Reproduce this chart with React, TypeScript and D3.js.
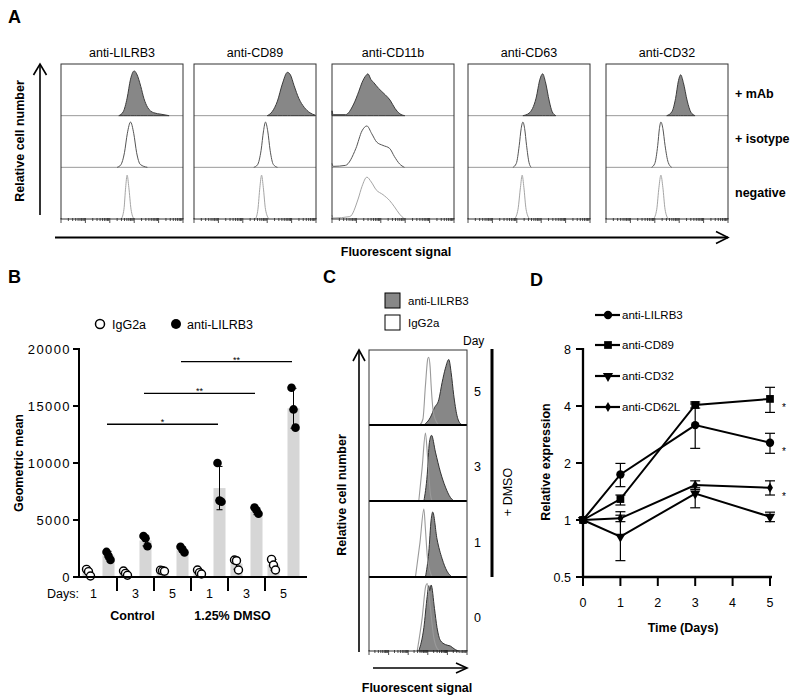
import React from "react";
import * as d3 from "d3";

type Pt = [number, number];

// ---------------- Panel A data (x in log10 decades, y relative height) ----------------
const aMarkers = ["anti-LILRB3", "anti-CD89", "anti-CD11b", "anti-CD63", "anti-CD32"];
const aRowLabels = ["+ mAb", "+ isotype", "negative"];

const lilrb3Mab: Pt[] = [[2.37,0],[2.55,0.08],[2.71,0.36],[2.85,0.75],[3.0,0.92],[3.1,0.86],[3.27,0.6],[3.4,0.35],[3.55,0.17],[3.8,0.06],[4.1,0.03],[4.43,0]];
const lilrb3Iso: Pt[] = [[2.3,0],[2.45,0.05],[2.6,0.3],[2.72,0.7],[2.85,0.93],[2.98,0.7],[3.1,0.3],[3.25,0.06],[3.54,0]];
const lilrb3Neg: Pt[] = [[2.47,0],[2.58,0.2],[2.65,0.65],[2.71,0.9],[2.78,0.65],[2.87,0.2],[2.99,0]];
const cd89Mab: Pt[] = [[3.0,0],[3.2,0.08],[3.42,0.3],[3.62,0.65],[3.83,0.89],[3.95,0.84],[4.1,0.62],[4.3,0.35],[4.52,0.17],[4.75,0.06],[4.97,0.01]];
const cd89Iso: Pt[] = [[2.45,0],[2.6,0.05],[2.75,0.35],[2.85,0.75],[2.93,0.93],[3.02,0.75],[3.12,0.35],[3.25,0.06],[3.42,0]];
const cd89Neg: Pt[] = [[2.52,0],[2.62,0.2],[2.7,0.65],[2.77,0.9],[2.84,0.65],[2.93,0.2],[3.07,0]];
const cd11bMab: Pt[] = [[0,0.1],[0.05,0.02],[0.55,0.02],[0.89,0.24],[1.1,0.5],[1.23,0.68],[1.4,0.83],[1.47,0.86],[1.6,0.74],[1.71,0.68],[1.91,0.56],[2.18,0.43],[2.38,0.32],[2.58,0.15],[2.78,0.04],[2.98,0]];
const cd11bIso: Pt[] = [[0,0.08],[0.05,0.02],[0.55,0.04],[0.98,0.39],[1.23,0.75],[1.43,0.85],[1.63,0.69],[1.83,0.52],[2.09,0.45],[2.36,0.39],[2.56,0.22],[2.77,0.07],[2.97,0]];
const cd11bNeg: Pt[] = [[0,0.08],[0.05,0.02],[0.73,0.05],[1.07,0.41],[1.23,0.67],[1.43,0.86],[1.61,0.76],[1.81,0.6],[2.09,0.5],[2.36,0.38],[2.56,0.25],[2.77,0.1],[2.97,0]];
const cd63Mab: Pt[] = [[2.25,0],[2.5,0.05],[2.79,0.36],[2.95,0.75],[3.06,0.86],[3.17,0.7],[3.33,0.3],[3.45,0.08],[3.6,0]];
const cd63Iso: Pt[] = [[1.84,0],[1.98,0.08],[2.1,0.45],[2.18,0.8],[2.25,0.93],[2.32,0.8],[2.4,0.45],[2.5,0.1],[2.59,0]];
const cd63Neg: Pt[] = [[1.91,0],[2.05,0.2],[2.15,0.65],[2.22,0.9],[2.29,0.65],[2.38,0.2],[2.52,0]];
const cd32Mab: Pt[] = [[2.49,0],[2.7,0.08],[2.85,0.35],[2.97,0.72],[3.06,0.84],[3.17,0.68],[3.33,0.3],[3.48,0.07],[3.65,0]];
const cd32Iso: Pt[] = [[1.87,0],[2.0,0.08],[2.12,0.45],[2.19,0.8],[2.25,0.93],[2.33,0.8],[2.42,0.45],[2.55,0.1],[2.69,0]];
const cd32Neg: Pt[] = [[1.95,0],[2.08,0.2],[2.17,0.65],[2.25,0.9],[2.33,0.65],[2.42,0.2],[2.55,0]];

// ---------------- Panel B data ----------------
const bDays = ["1", "3", "5", "1", "3", "5"];
const bTreatments = ["Control", "1.25% DMSO"];
const bIgBar = [350, 250, 550, 420, 1180, 1070];
const bIgSd = [300, 190, 50, 180, 490, 470];
const bIgPts = [[670, 470, 90], [525, 320, 150], [600, 550, 500], [610, 380, 260], [1490, 1430, 610], [1550, 1050, 610]];
const bAbBar = [1900, 3200, 2400, 7800, 5750, 14800];
const bAbSd = [350, 470, 250, 1900, 280, 1750];
const bAbPts = [[2200, 1850, 1500], [3600, 3400, 2700], [2650, 2400, 2150], [10000, 6700, 6600], [6100, 5850, 5550], [16600, 14700, 13100]];
const bSigFrom = [0, 1, 2];
const bSigTo = [3, 4, 5];
const bSigY = [13400, 16100, 18900];
const bSigLabel = ["*", "**", "**"];
const bYTicks = [0, 5000, 10000, 15000, 20000];

// ---------------- Panel C data ----------------
const cDays = ["5", "3", "1", "0"];
const cDay5Anti: Pt[] = [[2.8,0],[3.14,0.11],[3.34,0.24],[3.56,0.35],[3.73,0.59],[3.9,0.79],[4.07,0.91],[4.19,0.73],[4.32,0.42],[4.49,0.13],[4.66,0.02],[4.8,0]];
const cDay5Ig: Pt[] = [[2.6,0],[2.75,0.08],[2.88,0.55],[3.0,0.92],[3.05,0.94],[3.12,0.8],[3.17,0.55],[3.3,0.15],[3.55,0]];
const cDay3Anti: Pt[] = [[2.8,0],[2.97,0.36],[3.08,0.8],[3.19,0.9],[3.39,0.67],[3.64,0.4],[3.9,0.19],[4.15,0.05],[4.32,0]];
const cDay3Ig: Pt[] = [[2.54,0],[2.71,0.45],[2.88,0.93],[2.97,0.67],[3.05,0.36],[3.13,0.1],[3.22,0]];
const cDay1Anti: Pt[] = [[2.88,0],[3.05,0.34],[3.17,0.78],[3.25,0.89],[3.47,0.52],[3.73,0.25],[3.98,0.08],[4.24,0]];
const cDay1Ig: Pt[] = [[2.37,0],[2.6,0.47],[2.8,0.93],[2.88,0.65],[2.97,0.3],[3.13,0.06],[3.22,0]];
const cDay0Anti: Pt[] = [[2.54,0],[2.8,0.33],[2.97,0.77],[3.05,0.92],[3.1,0.85],[3.17,0.93],[3.34,0.6],[3.47,0.33],[3.64,0.15],[3.9,0.09],[4.15,0.07],[4.4,0.02],[4.58,0]];
const cDay0Ig: Pt[] = [[2.46,0],[2.71,0.46],[2.9,0.92],[2.97,0.95],[3.1,0.68],[3.3,0.2],[3.47,0.04],[3.64,0]];

// ---------------- Panel D data ----------------
const dDays = [0, 1, 3, 5];
const dSeriesNames = ["anti-LILRB3", "anti-CD89", "anti-CD32", "anti-CD62L"];
const dLILRB3 = [1, 1.74, 3.17, 2.56];
const dLILRB3Lo = [1, 1.5, 2.39, 2.25];
const dLILRB3Hi = [1, 1.99, 4.1, 2.87];
const dCD89 = [1, 1.29, 4.05, 4.36];
const dCD89Lo = [1, 1.2, 3.9, 3.7];
const dCD89Hi = [1, 1.355, 4.2, 5.02];
const dCD32 = [1, 0.816, 1.38, 1.04];
const dCD32Lo = [1, 0.61, 1.16, 0.98];
const dCD32Hi = [1, 1.106, 1.48, 1.1];
const dCD62L = [1, 1.02, 1.53, 1.48];
const dCD62LLo = [1, 0.98, 1.45, 1.355];
const dCD62LHi = [1, 1.06, 1.61, 1.61];
const dSignificant = [true, true, false, true];
const dYTicks = [0.5, 1, 2, 4, 8];
const dXTicks = [0, 1, 2, 3, 4, 5];

const FONT = "'Liberation Sans', Arial, Helvetica, sans-serif";

const logTicks = d3
  .scaleLog()
  .domain([1, 1e5])
  .ticks()
  .map((t) => {
    const d = Math.log10(t);
    return { d, major: Math.abs(d - Math.round(d)) < 1e-9 };
  });

function histArea(pts: Pt[], xs: d3.ScaleLinear<number, number>, base: number, h: number) {
  const y = d3.scaleLinear().domain([0, 1]).range([base, base - h]);
  return d3
    .area<Pt>()
    .x((p) => xs(p[0]))
    .y0(base)
    .y1((p) => y(p[1]))
    .curve(d3.curveMonotoneX)(pts) as string;
}
function histLine(pts: Pt[], xs: d3.ScaleLinear<number, number>, base: number, h: number) {
  const y = d3.scaleLinear().domain([0, 1]).range([base, base - h]);
  return d3
    .line<Pt>()
    .x((p) => xs(p[0]))
    .y((p) => y(p[1]))
    .curve(d3.curveMonotoneX)(pts) as string;
}

function LogTicks({ x0, w, y }: { x0: number; w: number; y: number }) {
  const xs = d3.scaleLinear().domain([0, 5]).range([x0, x0 + w]);
  return (
    <g stroke="#222" strokeWidth={0.8}>
      {logTicks.map((t, i) => (
        <line key={i} x1={xs(t.d)} x2={xs(t.d)} y1={y - 1} y2={y + (t.major ? 4 : 2)} />
      ))}
    </g>
  );
}

function PanelA() {
  const boxX = [61, 194, 332, 468, 606];
  const boxW = 122;
  const top = 64;
  const bot = 219;
  const rowH = (bot - top) / 3;
  const hists: Pt[][][] = [
    [lilrb3Mab, lilrb3Iso, lilrb3Neg],
    [cd89Mab, cd89Iso, cd89Neg],
    [cd11bMab, cd11bIso, cd11bNeg],
    [cd63Mab, cd63Iso, cd63Neg],
    [cd32Mab, cd32Iso, cd32Neg],
  ];
  const peakH = rowH - 3;
  return (
    <g>
      <text x={8} y={23} fontSize={18} fontWeight="bold">A</text>
      {aMarkers.map((m, i) => {
        const x0 = boxX[i];
        const xs = d3.scaleLinear().domain([0, 5]).range([x0, x0 + boxW]);
        const [mab, iso, neg] = hists[i];
        return (
          <g key={m}>
            <text x={x0 + boxW / 2} y={57} fontSize={12.5} textAnchor="middle">{m}</text>
            <rect x={x0} y={top} width={boxW} height={bot - top} fill="#fff" stroke="none" />
            {/* baselines */}
            {[0, 1].map((r) => (
              <line key={r} x1={x0} x2={x0 + boxW} y1={top + (r + 1) * rowH} y2={top + (r + 1) * rowH} stroke="#9a9a9a" strokeWidth={1} />
            ))}
            <path d={histArea(mab, xs, top + rowH, peakH)} fill="#878787" stroke="#3c3c3c" strokeWidth={1} />
            <path d={histLine(iso, xs, top + 2 * rowH, peakH)} fill="none" stroke="#555" strokeWidth={1} />
            <path d={histLine(neg, xs, top + 3 * rowH, peakH)} fill="none" stroke="#a5a5a5" strokeWidth={1} />
            <rect x={x0} y={top} width={boxW} height={bot - top} fill="none" stroke="#333" strokeWidth={1} />
            <LogTicks x0={x0} w={boxW} y={bot} />
          </g>
        );
      })}
      {aRowLabels.map((l, r) => (
        <text key={l} x={735} y={[98, 143, 197][r]} fontSize={12.5} fontWeight="bold">{l}</text>
      ))}
      {/* y arrow */}
      <line x1={40} x2={40} y1={215} y2={64} stroke="#000" strokeWidth={1.6} />
      <path d="M33.5,75 L40,64 L46.5,75" fill="none" stroke="#000" strokeWidth={1.6} />
      <text transform="translate(24,141) rotate(-90)" fontSize={12.5} fontWeight="bold" textAnchor="middle">Relative cell number</text>
      {/* x arrow */}
      <line x1={55} x2={728} y1={237.5} y2={237.5} stroke="#000" strokeWidth={1.8} />
      <path d="M716,231.5 L728,237.5 L716,243.5" fill="none" stroke="#000" strokeWidth={1.6} />
      <text x={396} y={256} fontSize={12.5} fontWeight="bold" textAnchor="middle">Fluorescent signal</text>
    </g>
  );
}

function PanelB() {
  const y = d3.scaleLinear().domain([0, 20000]).range([577, 349]);
  const x = d3.scaleBand<number>().domain(d3.range(6)).range([80, 302]);
  const cx = (i: number) => (x(i) as number) + x.bandwidth() / 2;
  const off = 10;
  const bw = 12;
  const jit = [-2, 0, 2];
  return (
    <g>
      <text x={8} y={283} fontSize={18} fontWeight="bold">B</text>
      {/* legend */}
      <circle cx={100} cy={324} r={4.5} fill="#fff" stroke="#000" strokeWidth={1.5} />
      <text x={112} y={329} fontSize={12.5}>IgG2a</text>
      <circle cx={176} cy={324} r={5} fill="#000" />
      <text x={187} y={329} fontSize={12.5}>anti-LILRB3</text>
      {/* bars */}
      {bDays.map((_, i) => (
        <g key={i}>
          <rect x={cx(i) - off - bw / 2} width={bw} y={y(bIgBar[i])} height={577 - y(bIgBar[i])} fill="#d6d6d6" />
          <rect x={cx(i) + off - bw / 2} width={bw} y={y(bAbBar[i])} height={577 - y(bAbBar[i])} fill="#d6d6d6" />
        </g>
      ))}
      {/* error bars */}
      {bDays.map((_, i) => (
        <g key={"e" + i} stroke="#000" strokeWidth={1}>
          {[
            [cx(i) - off, bIgBar[i], bIgSd[i]],
            [cx(i) + off, bAbBar[i], bAbSd[i]],
          ].map(([xx, m, s], k) => (
            <g key={k}>
              <line x1={xx} x2={xx} y1={y(m - s)} y2={y(m + s)} />
              <line x1={xx - 3} x2={xx + 3} y1={y(m - s)} y2={y(m - s)} />
              <line x1={xx - 3} x2={xx + 3} y1={y(m + s)} y2={y(m + s)} />
            </g>
          ))}
        </g>
      ))}
      {/* points */}
      {bDays.map((_, i) => (
        <g key={"p" + i}>
          {bIgPts[i].map((v, k) => (
            <circle key={k} cx={cx(i) - off + jit[k]} cy={y(v)} r={4} fill="#fff" stroke="#000" strokeWidth={1.4} />
          ))}
          {bAbPts[i].map((v, k) => (
            <circle key={k} cx={cx(i) + off + jit[k]} cy={y(v)} r={4.3} fill="#000" />
          ))}
        </g>
      ))}
      {/* axes */}
      <line x1={79} x2={79} y1={348} y2={578} stroke="#000" strokeWidth={2} />
      <line x1={78} x2={307} y1={577} y2={577} stroke="#000" strokeWidth={2} />
      {bYTicks.map((t) => (
        <g key={t}>
          <line x1={73} x2={79} y1={y(t)} y2={y(t)} stroke="#000" strokeWidth={2} />
          <text x={71} y={y(t) + 4.5} fontSize={13} textAnchor="end" letterSpacing={1.4}>{t}</text>
        </g>
      ))}
      {d3.range(1, 6).map((i) => (
        <line key={i} x1={x(i) as number} x2={x(i) as number} y1={577} y2={591} stroke="#000" strokeWidth={2} />
      ))}
      <text x={47} y={598} fontSize={12.5}>Days:</text>
      {bDays.map((d, i) => (
        <text key={i} x={i === 0 ? cx(i) - 5 : cx(i)} y={598} fontSize={12.5} textAnchor="middle">{d}</text>
      ))}
      <text x={cx(1) - 3} y={620} fontSize={12.5} fontWeight="bold" textAnchor="middle">{bTreatments[0]}</text>
      <text x={cx(4) - 14} y={620} fontSize={12.5} fontWeight="bold" textAnchor="middle">{bTreatments[1]}</text>
      <text transform="translate(23,463) rotate(-90)" fontSize={12.5} fontWeight="bold" textAnchor="middle">Geometric mean</text>
      {/* significance */}
      {bSigFrom.map((f, k) => {
        const x1 = cx(f) + off - 1.5;
        const x2 = cx(bSigTo[k]) + off - 1.5;
        return (
          <g key={k}>
            <line x1={x1} x2={x2} y1={y(bSigY[k])} y2={y(bSigY[k])} stroke="#000" strokeWidth={1.3} />
            <text x={(x1 + x2) / 2} y={y(bSigY[k]) + 1} fontSize={9} textAnchor="middle">{bSigLabel[k]}</text>
          </g>
        );
      })}
    </g>
  );
}

function PanelC() {
  const x0 = 369;
  const w = 98;
  const rowTops = [350, 425, 501, 577];
  const bot = 651;
  const xs = d3.scaleLinear().domain([0, 5]).range([x0, x0 + w]);
  const anti = [cDay5Anti, cDay3Anti, cDay1Anti, cDay0Anti];
  const ig = [cDay5Ig, cDay3Ig, cDay1Ig, cDay0Ig];
  return (
    <g>
      <text x={323} y={283} fontSize={18} fontWeight="bold">C</text>
      <rect x={385} y={293} width={15} height={15} fill="#878787" stroke="#000" strokeWidth={1} />
      <text x={408} y={305} fontSize={11.5}>anti-LILRB3</text>
      <rect x={385} y={315} width={15} height={15} fill="#fff" stroke="#000" strokeWidth={1} />
      <text x={408} y={327} fontSize={11.5}>IgG2a</text>
      <text x={463} y={345} fontSize={12}>Day</text>
      <rect x={x0} y={rowTops[0]} width={w} height={bot - rowTops[0]} fill="#fff" />
      {cDays.map((d, r) => {
        const base = r < 3 ? rowTops[r + 1] : bot;
        const h = base - rowTops[r] - 3;
        return (
          <g key={d}>
            <path d={histArea(anti[r], xs, base, h)} fill="#878787" stroke="#333" strokeWidth={1} />
            <path d={histLine(ig[r], xs, base, h)} fill="none" stroke="#9a9a9a" strokeWidth={1.1} />
            <text x={474} y={(rowTops[r] + base) / 2 + 8} fontSize={12.5}>{d}</text>
          </g>
        );
      })}
      {[1, 2, 3].map((r) => (
        <line key={r} x1={x0} x2={x0 + w} y1={rowTops[r]} y2={rowTops[r]} stroke="#000" strokeWidth={1.8} />
      ))}
      <rect x={x0} y={rowTops[0]} width={w} height={bot - rowTops[0]} fill="none" stroke="#333" strokeWidth={1} />
      <LogTicks x0={x0} w={w} y={bot} />
      <line x1={492} x2={492} y1={349} y2={577} stroke="#000" strokeWidth={3} />
      <text transform="translate(512,492) rotate(-90)" fontSize={12.5} textAnchor="middle">+ DMSO</text>
      {/* y arrow */}
      <line x1={359} x2={359} y1={652} y2={350} stroke="#000" strokeWidth={1.6} />
      <path d="M353,361 L359,350 L365,361" fill="none" stroke="#000" strokeWidth={1.6} />
      <text transform="translate(346,495) rotate(-90)" fontSize={12.5} fontWeight="bold" textAnchor="middle">Relative cell number</text>
      {/* x arrow */}
      <line x1={373} x2={467} y1={668} y2={668} stroke="#000" strokeWidth={1.6} />
      <path d="M456,663 L467,668 L456,673" fill="none" stroke="#000" strokeWidth={1.6} />
      <text x={417} y={692} fontSize={12.5} fontWeight="bold" textAnchor="middle">Fluorescent signal</text>
    </g>
  );
}

function PanelD() {
  const x = d3.scaleLinear().domain([0, 5]).range([583, 770]);
  const y = d3.scaleLog().base(2).domain([0.5, 8]).range([577, 349]);
  const series = [
    { name: dSeriesNames[0], v: dLILRB3, lo: dLILRB3Lo, hi: dLILRB3Hi, sym: d3.symbolCircle, size: 55, rot: 0 },
    { name: dSeriesNames[1], v: dCD89, lo: dCD89Lo, hi: dCD89Hi, sym: d3.symbolSquare, size: 60, rot: 0 },
    { name: dSeriesNames[2], v: dCD32, lo: dCD32Lo, hi: dCD32Hi, sym: d3.symbolTriangle, size: 45, rot: 180 },
    { name: dSeriesNames[3], v: dCD62L, lo: dCD62LLo, hi: dCD62LHi, sym: d3.symbolDiamond, size: 30, rot: 0 },
  ];
  const line = d3.line<number>().x((_, i) => x(dDays[i])).y((v) => y(v));
  const legendY = [315, 345, 376, 407];
  return (
    <g>
      <text x={530} y={286} fontSize={18} fontWeight="bold">D</text>
      {series.map((s, k) => (
        <g key={s.name}>
          <line x1={595} x2={620} y1={legendY[k]} y2={legendY[k]} stroke="#000" strokeWidth={2.2} />
          <path d={d3.symbol().type(s.sym).size(s.size)() as string} transform={`translate(608,${legendY[k]}) rotate(${s.rot})`} fill="#000" />
          <text x={622} y={legendY[k] + 4} fontSize={11.5}>{s.name}</text>
        </g>
      ))}
      {series.map((s) => (
        <g key={"s" + s.name}>
          <path d={line(s.v) as string} fill="none" stroke="#000" strokeWidth={2} />
          {s.v.map((v, i) =>
            i === 0 ? null : (
              <g key={i} stroke="#000" strokeWidth={1.2}>
                <line x1={x(dDays[i])} x2={x(dDays[i])} y1={y(s.lo[i])} y2={y(s.hi[i])} />
                <line x1={x(dDays[i]) - 5} x2={x(dDays[i]) + 5} y1={y(s.lo[i])} y2={y(s.lo[i])} />
                <line x1={x(dDays[i]) - 5} x2={x(dDays[i]) + 5} y1={y(s.hi[i])} y2={y(s.hi[i])} />
              </g>
            )
          )}
          {s.v.map((v, i) => (
            <path key={"m" + i} d={d3.symbol().type(s.sym).size(s.size)() as string} transform={`translate(${x(dDays[i])},${y(v)}) rotate(${s.rot})`} fill="#000" />
          ))}
        </g>
      ))}
      {series.map((s, k) =>
        dSignificant[k] ? (
          <text key={"st" + k} x={784} y={y(s.v[3]) + 12} fontSize={10} textAnchor="middle">*</text>
        ) : null
      )}
      {/* axes */}
      <line x1={583} x2={583} y1={348} y2={578} stroke="#000" strokeWidth={2.3} />
      <line x1={582} x2={772} y1={577} y2={577} stroke="#000" strokeWidth={2.3} />
      {dYTicks.map((t) => (
        <g key={t}>
          <line x1={576} x2={583} y1={y(t)} y2={y(t)} stroke="#000" strokeWidth={2} />
          <text x={571} y={y(t) + 4.5} fontSize={12.5} textAnchor="end">{t}</text>
        </g>
      ))}
      {dXTicks.map((t) => (
        <g key={t}>
          <line x1={x(t)} x2={x(t)} y1={577} y2={586} stroke="#000" strokeWidth={2} />
          <text x={x(t)} y={607} fontSize={12.5} textAnchor="middle">{t}</text>
        </g>
      ))}
      <text x={683} y={632} fontSize={12.5} fontWeight="bold" textAnchor="middle">Time (Days)</text>
      <text transform="translate(550,462) rotate(-90)" fontSize={12.5} fontWeight="bold" textAnchor="middle">Relative expression</text>
    </g>
  );
}

export default function App() {
  return (
    <svg
      width={800}
      height={697}
      viewBox="0 0 800 697"
      style={{ position: "absolute", left: 0, top: 0, background: "#fff" }}
      fontFamily={FONT}
    >
      <rect width={800} height={697} fill="#fff" />
      <PanelA />
      <PanelB />
      <PanelC />
      <PanelD />
    </svg>
  );
}
